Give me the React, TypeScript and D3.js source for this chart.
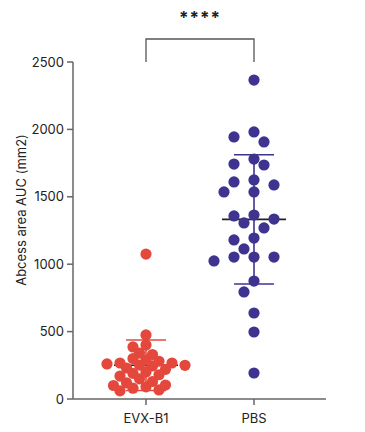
import React from 'react';
import * as d3 from 'd3';

const groups = ['EVX-B1', 'PBS'];
const evxValues = [1075, 475, 400, 386, 341, 330, 300, 289, 280, 267, 267, 260, 252, 250, 245, 230, 220, 200, 190, 180, 170, 150, 130, 120, 104, 100, 90, 80, 67, 60];
const pbsValues = [2366, 1981, 1944, 1907, 1780, 1743, 1736, 1625, 1610, 1588, 1536, 1536, 1365, 1358, 1335, 1306, 1269, 1194, 1180, 1113, 1053, 1053, 1053, 1024, 875, 794, 638, 497, 193];
const yTicks = [0, 500, 1000, 1500, 2000, 2500];
const yLabel = 'Abcess area AUC (mm2)';
const sigLabel = '****';

const colors = ['#e4483c', '#3f3390'];
const font = 'Inter, "DejaVu Sans", sans-serif';

const W = 365, H = 432;
const margin = {t: 62, r: 39, b: 33, l: 73};

const y = d3.scaleLinear().domain([0, 2500]).range([H - margin.b, margin.t]);
const x = d3.scalePoint<string>().domain(groups).range([146, 254]);

// simple swarm: place each dot at the nearest free horizontal slot
function swarm(vals: number[], cx: number, step: number, minDist: number) {
	const placed: {x: number, y: number, v: number}[] = [];
	const sorted = [...vals].sort((a, b) => b - a);
	sorted.forEach(v => {
		const py = y(v);
		for (let k = 0; k < 40; k++) {
			const off = k === 0 ? 0 : Math.ceil(k / 2) * step * (k % 2 ? -1 : 1);
			const px = cx + off;
			if (placed.every(p => Math.hypot(p.x - px, p.y - py) >= minDist)) {
				placed.push({x: px, y: py, v});
				break;
			}
		}
	});
	return placed;
}

export default function App() {
	const series = [evxValues, pbsValues];
	return (
		<svg width={W} height={H} style={{position: 'absolute', left: 0, top: 0, background: '#fff'}}>
			{/* y axis */}
			<g fontFamily={font} fontSize={13} fill='#222'>
				<line x1={margin.l} x2={margin.l} y1={y(2500)} y2={y(0)} stroke='#666' strokeWidth={1.5} />
				{yTicks.map(t => (
					<g key={t} transform={`translate(0,${y(t)})`}>
						<line x1={margin.l - 6} x2={margin.l} stroke='#666' strokeWidth={1.5} />
						<text x={margin.l - 9} dy='0.35em' textAnchor='end'>{t}</text>
					</g>
				))}
				<text transform='translate(21,210) rotate(-90)' textAnchor='middle' dy='0.35em'>{yLabel}</text>
			</g>
			{/* x axis */}
			<g fontFamily={font} fontSize={13} fill='#222'>
				<line x1={margin.l} x2={W - margin.r} y1={y(0)} y2={y(0)} stroke='#666' strokeWidth={1.5} />
				{groups.map(g => (
					<g key={g} transform={`translate(${x(g)},${y(0)})`}>
						<line y1={0} y2={6} stroke='#666' strokeWidth={1.5} />
						<text y={24} textAnchor='middle'>{g}</text>
					</g>
				))}
			</g>
			{/* significance bracket */}
			<path
				d={`M${x(groups[0])},${y(2500)}V39H${x(groups[1])}V${y(2500)}`}
				fill='none' stroke='#555' strokeWidth={1.3}
			/>
			<text x={(x(groups[0])! + x(groups[1])!) / 2} y={24} textAnchor='middle' fontFamily={font} fontSize={17} fontWeight={700} fill='#222' letterSpacing={1}>{sigLabel}</text>
			{/* groups */}
			{series.map((vals, i) => {
				const cx = x(groups[i])!;
				const mean = d3.mean(vals)!;
				const sd = d3.deviation(vals)!;
				const dots = swarm(vals, cx, i === 0 ? 6.5 : 10, i === 0 ? 8 : 11.5);
				return (
					<g key={groups[i]}>
						<line x1={cx} x2={cx} y1={y(mean + sd)} y2={y(Math.max(0, mean - sd))} stroke={colors[i]} strokeWidth={1.6} />
						<line x1={cx - 20} x2={cx + 20} y1={y(mean + sd)} y2={y(mean + sd)} stroke={colors[i]} strokeWidth={1.6} />
						<line x1={cx - 20} x2={cx + 20} y1={y(mean - sd)} y2={y(mean - sd)} stroke={colors[i]} strokeWidth={1.6} />
						<line x1={cx - 32} x2={cx + 32} y1={y(mean)} y2={y(mean)} stroke='#222' strokeWidth={1.6} />
						{dots.map((d, j) => (
							<circle key={j} cx={d.x} cy={d.y} r={5.6} fill={colors[i]} />
						))}
					</g>
				);
			})}
		</svg>
	);
}
